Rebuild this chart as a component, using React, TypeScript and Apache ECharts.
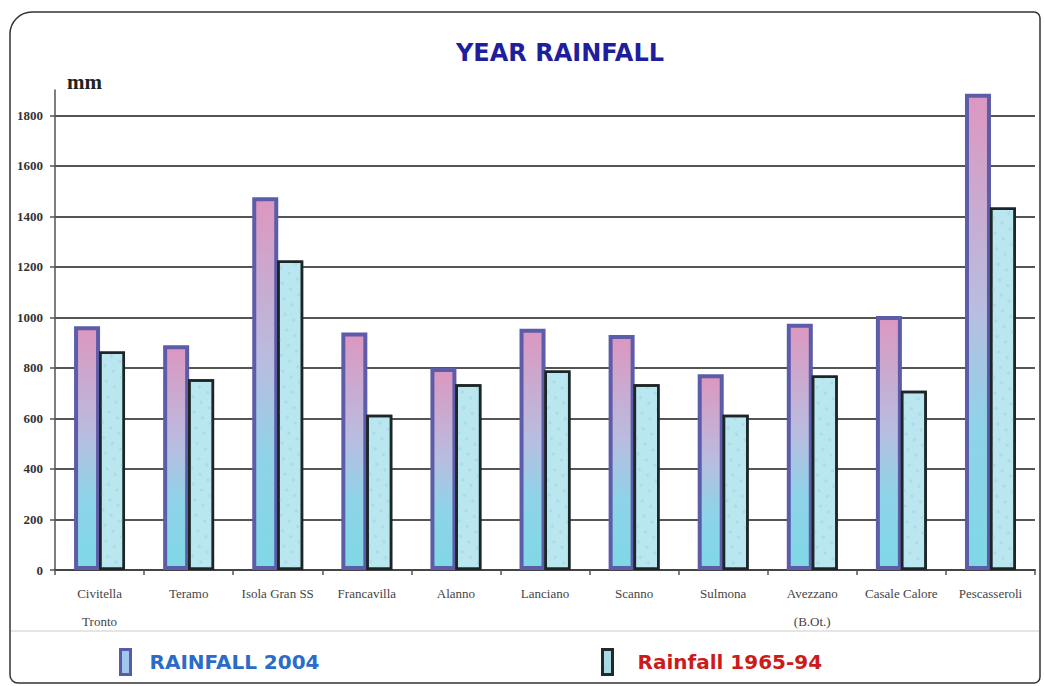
import React, { useEffect, useRef } from "react";
import * as echarts from "echarts";

const categories = [
  "Civitella\nTronto",
  "Teramo",
  "Isola Gran SS",
  "Francavilla",
  "Alanno",
  "Lanciano",
  "Scanno",
  "Sulmona",
  "Avezzano\n(B.Ot.)",
  "Casale Calore",
  "Pescasseroli",
];
const rainfall2004 = [965, 890, 1475, 940, 800, 955, 930, 775, 975, 1005, 1885];
const rainfall196594 = [865, 755, 1225, 615, 735, 790, 735, 615, 770, 710, 1435];
const yTicks = [0, 200, 400, 600, 800, 1000, 1200, 1400, 1600, 1800];

export default function App() {
  const ref = useRef<HTMLDivElement>(null);
  useEffect(() => {
    if (!ref.current) return;
    const chart = echarts.init(ref.current, null, { renderer: "svg" });
    const grad = new echarts.graphic.LinearGradient(0, 0, 0, 1, [
      { offset: 0, color: "#dc97c0" },
      { offset: 0.45, color: "#b8bde0" },
      { offset: 0.7, color: "#8fd3e8" },
      { offset: 1, color: "#7fd8e6" },
    ]);
    const legendText = {
      fontFamily: "'DejaVu Sans', Verdana, sans-serif",
      fontSize: 20,
      fontWeight: "bold",
    };
    chart.setOption({
      animation: false,
      backgroundColor: "#ffffff",
      graphic: [
        {
          type: "rect",
          shape: { x: 10, y: 12, width: 1030, height: 671, r: [22, 6, 6, 8] },
          style: { fill: "none", stroke: "#333", lineWidth: 1.5 },
          silent: true,
          z: -1,
        },
        {
          type: "line",
          shape: { x1: 11, y1: 631, x2: 1039, y2: 631 },
          style: { stroke: "#dcdcdc", lineWidth: 1.5 },
          silent: true,
        },
        {
          type: "text",
          x: 67,
          y: 71,
          style: {
            text: "mm",
            fontFamily: "'Liberation Serif', serif",
            fontSize: 21,
            fontWeight: "bold",
            fill: "#222",
          },
        },
      ],
      title: {
        text: "YEAR RAINFALL",
        left: 555,
        textAlign: "center",
        top: 36,
        textStyle: {
          fontFamily: "'DejaVu Sans', Verdana, sans-serif",
          fontSize: 24,
          fontWeight: "bold",
          color: "#1f1f9e",
        },
      },
      legend: [
        {
          data: [
            {
              name: "RAINFALL 2004",
              itemStyle: { color: "#9fc8ec", borderColor: "#5a5aa8", borderWidth: 3 },
              textStyle: { color: "#2a6cc8" },
            },
          ],
          left: 114,
          top: 643,
          itemWidth: 10,
          itemHeight: 25,
          icon: "rect",
          textStyle: { ...legendText, padding: [0, 0, 0, 14] },
        },
        {
          data: [
            {
              name: "Rainfall 1965-94",
              itemStyle: { color: "#a9dbe6", borderColor: "#1e2b2b", borderWidth: 3 },
              textStyle: { color: "#cc1b1b" },
            },
          ],
          left: 596,
          top: 643,
          itemWidth: 10,
          itemHeight: 25,
          icon: "rect",
          textStyle: { ...legendText, padding: [0, 0, 0, 20] },
        },
      ],
      grid: { left: 55, right: 10, top: 90, bottom: 116, containLabel: false },
      xAxis: {
        type: "category",
        data: categories,
        axisLine: { lineStyle: { color: "#444", width: 2 } },
        axisTick: { show: true, length: 5, alignWithLabel: false, lineStyle: { color: "#555", width: 1.5 } },
        axisLabel: {
          interval: 0,
          margin: 9,
          fontFamily: "'Liberation Serif', serif",
          fontSize: 13,
          color: "#444",
          lineHeight: 28,
        },
      },
      yAxis: {
        type: "value",
        min: 0,
        max: 1900,
        interval: 200,
        axisLine: { show: true, lineStyle: { color: "#555", width: 1.5 } },
        axisTick: { show: true, length: 5, lineStyle: { color: "#555", width: 1.5 } },
        axisLabel: {
          showMaxLabel: false,
          margin: 12,
          fontFamily: "'Liberation Serif', serif",
          fontSize: 13,
          color: "#333",
          fontWeight: "bold",
          formatter: (v: number) => (yTicks.includes(v) ? String(v) : ""),
        },
        splitLine: {
          show: true,
          showMaxLine: false,
          lineStyle: { color: "#555", width: 2 },
        },
      },
      series: [
        {
          name: "RAINFALL 2004",
          type: "bar",
          data: rainfall2004,
          barWidth: 26,
          barGap: "-4%",
          itemStyle: { color: grad, borderColor: "#5c5ca8", borderWidth: 4 },
          z: 2,
        },
        {
          name: "Rainfall 1965-94",
          type: "bar",
          data: rainfall196594,
          barWidth: 26,
          itemStyle: {
            color: "#b9e6ef",
            borderColor: "#1c2626",
            borderWidth: 2.5,
            decal: {
              symbol: "circle",
              symbolSize: 0.6,
              dashArrayX: [6, 4],
              dashArrayY: [5, 7],
              rotation: 0.6,
              color: "rgba(140,205,220,0.45)",
            },
          },
          z: 3,
        },
      ],
    });
    return () => chart.dispose();
  }, []);
  return (
    <div
      ref={ref}
      style={{ position: "fixed", left: 0, top: 0, width: 1045, height: 686 }}
    />
  );
}
